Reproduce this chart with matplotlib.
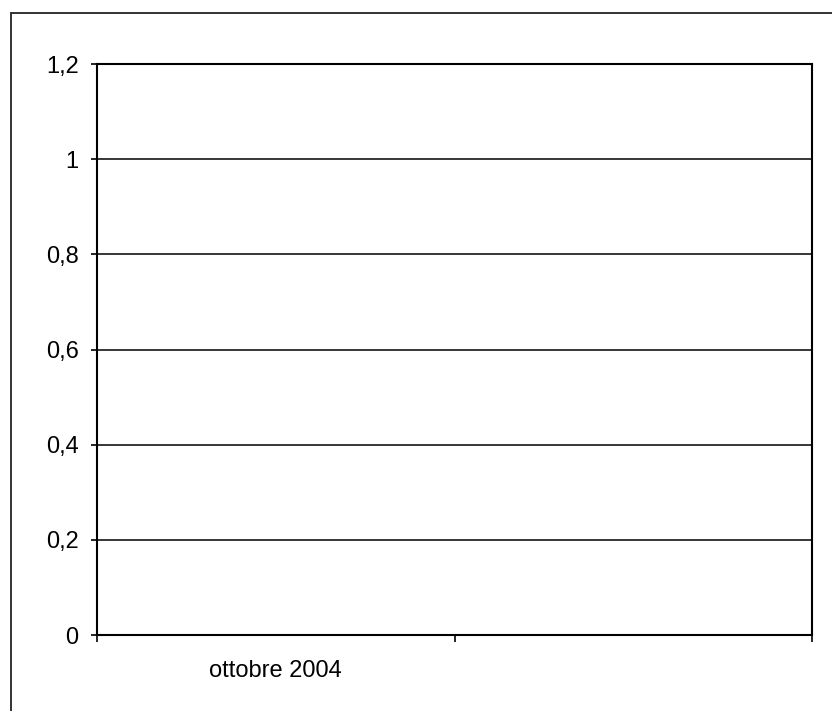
import matplotlib
matplotlib.use("Agg")
import matplotlib.pyplot as plt
from matplotlib.patches import Rectangle
from matplotlib.ticker import FixedLocator, FixedFormatter, NullFormatter

plt.rcParams['font.family'] = ['Liberation Sans', 'DejaVu Sans']

categories = ["ottobre 2004", ""]
values = [0, 0]
y_ticks = [0, 0.2, 0.4, 0.6, 0.8, 1.0, 1.2]
y_labels = ["0", "0,2", "0,4", "0,6", "0,8", "1", "1,2"]

W, H = 832, 711
fig = plt.figure(figsize=(W / 100, H / 100), dpi=100)
fig.patch.set_facecolor("white")

# outer chart frame (extends past right/bottom edges as in scan)
fig.add_artist(Rectangle((11 / W, -0.05), 1.2, 1 - 13 / H + 0.05,
                         transform=fig.transFigure, fill=False,
                         edgecolor="#222222", linewidth=1.3, clip_on=False))

ax = fig.add_axes([97 / W, 1 - 635 / H, (812 - 97) / W, (635 - 64) / H])
n = len(categories)
ax.bar([i + 0.5 for i in range(n)], values, width=0.6, color="#9999ff")
ax.set_xlim(0, n)
ax.set_ylim(0, 1.2)

ax.set_yticks(y_ticks)
ax.set_yticklabels(y_labels)
for y in y_ticks[1:-1]:
    ax.axhline(y, color="black", linewidth=1.1, zorder=1)

ax.xaxis.set_major_locator(FixedLocator(list(range(n + 1))))
ax.xaxis.set_major_formatter(NullFormatter())
ax.xaxis.set_minor_locator(FixedLocator([i + 0.5 for i in range(n)]))
ax.xaxis.set_minor_formatter(FixedFormatter(categories))
ax.tick_params(axis="x", which="major", length=5, width=1.2, direction="out")
ax.tick_params(axis="x", which="minor", length=0, pad=18, labelsize=17)
ax.tick_params(axis="y", length=4.3, width=1.2, direction="out", pad=9, labelsize=17)

for s in ax.spines.values():
    s.set_linewidth(1.5)
    s.set_color("black")

fig.savefig("out.png", dpi=100)
